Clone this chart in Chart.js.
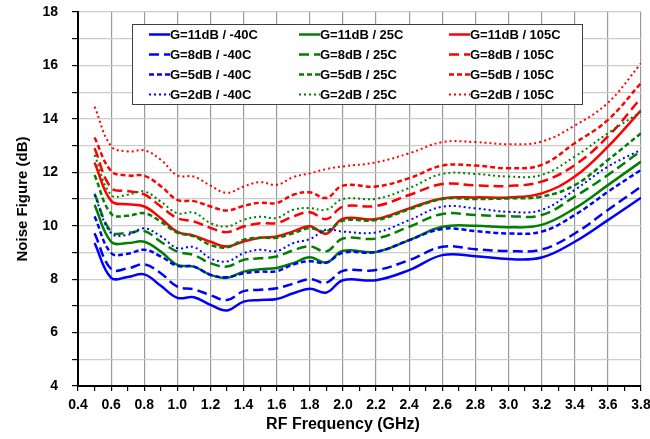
<!DOCTYPE html>
<html>
<head>
<meta charset="utf-8">
<script src="https://cdn.jsdelivr.net/npm/chart.js@4.4.1/dist/chart.umd.min.js"></script>
<style>
  html, body { margin: 0; padding: 0; background: #fff; }
  #wrap { width: 650px; height: 439px; }
</style>
</head>
<body>
<div id="wrap"><canvas id="nfChart"></canvas></div>
<script>
// RF frequency points (GHz)
const freq = [0.5, 0.6, 0.7, 0.8, 0.9, 1.0, 1.1, 1.2, 1.3, 1.4, 1.5, 1.6, 1.7, 1.8, 1.9,
              2.0, 2.2, 2.4, 2.6, 2.8, 3.0, 3.2, 3.4, 3.6, 3.8];

// Noise figure (dB)
const g11_m40 = [9.35, 8.05, 8.08, 8.18, 7.75, 7.30, 7.32, 7.04, 6.83, 7.16, 7.22, 7.26, 7.47, 7.64, 7.50,
                 7.96, 7.96, 8.34, 8.90, 8.86, 8.75, 8.81, 9.40, 10.21, 11.05];
const g8_m40  = [9.72, 8.38, 8.40, 8.55, 8.22, 7.72, 7.62, 7.40, 7.22, 7.55, 7.60, 7.66, 7.83, 8.00, 7.87,
                 8.31, 8.34, 8.71, 9.21, 9.12, 9.05, 9.11, 9.71, 10.59, 11.46];
const g5_m40  = [10.35, 8.98, 8.95, 9.10, 8.85, 8.50, 8.47, 8.16, 8.07, 8.22, 8.28, 8.30, 8.55, 8.67, 8.62,
                 8.99, 9.02, 9.46, 9.88, 9.80, 9.71, 9.78, 10.40, 11.27, 12.09];
const g2_m40  = [11.15, 9.72, 9.66, 9.90, 9.60, 9.16, 9.20, 8.78, 8.66, 8.97, 9.10, 9.05, 9.35, 9.50, 9.85,
                 9.78, 9.75, 10.21, 10.71, 10.65, 10.52, 10.59, 11.34, 12.21, 12.84];

const g11_25  = [10.78, 9.40, 9.35, 9.40, 9.03, 8.53, 8.47, 8.16, 8.05, 8.28, 8.37, 8.42, 8.60, 8.82, 8.62,
                 9.06, 9.02, 9.46, 9.96, 10.00, 9.94, 10.03, 10.65, 11.52, 12.40];
const g8_25   = [11.20, 9.78, 9.73, 9.80, 9.40, 9.03, 8.90, 8.60, 8.47, 8.72, 8.78, 8.85, 9.08, 9.23, 9.04,
                 9.52, 9.52, 9.96, 10.44, 10.40, 10.36, 10.40, 11.09, 11.90, 12.80];
const g5_25   = [11.90, 10.45, 10.37, 10.47, 10.15, 9.74, 9.60, 9.28, 9.19, 9.47, 9.55, 9.55, 9.72, 9.91, 9.79,
                 10.19, 10.21, 10.61, 11.00, 11.00, 11.02, 11.09, 11.52, 12.46, 13.46];
const g2_25   = [12.65, 11.15, 11.16, 11.28, 10.90, 10.47, 10.49, 10.10, 9.97, 10.22, 10.34, 10.29, 10.60, 10.66, 10.60,
                 11.00, 11.01, 11.41, 11.94, 11.94, 11.84, 11.90, 12.59, 13.46, 14.27];

const g11_105 = [12.37, 10.93, 10.80, 10.72, 10.28, 9.77, 9.63, 9.40, 9.22, 9.41, 9.55, 9.60, 9.79, 9.98, 9.70,
                 10.26, 10.25, 10.65, 11.02, 11.06, 11.06, 11.21, 11.84, 12.96, 14.32];
const g8_105  = [12.90, 11.42, 11.30, 11.17, 10.72, 10.28, 10.16, 9.92, 9.76, 9.97, 10.09, 10.10, 10.35, 10.50, 10.25,
                 10.71, 10.74, 11.15, 11.56, 11.51, 11.49, 11.65, 12.27, 13.34, 14.78];
const g5_105  = [13.30, 12.05, 11.88, 11.87, 11.48, 10.97, 10.92, 10.72, 10.57, 10.74, 10.86, 10.85, 11.16, 11.25, 11.04,
                 11.50, 11.47, 11.78, 12.25, 12.25, 12.15, 12.28, 13.09, 13.96, 15.34];
const g2_105  = [14.46, 12.98, 12.78, 12.82, 12.47, 11.88, 11.84, 11.50, 11.23, 11.47, 11.63, 11.53, 11.82, 11.96, 12.12,
                 12.22, 12.37, 12.71, 13.13, 13.13, 13.05, 13.15, 13.75, 14.60, 16.08];

// Axis ticks
const xTickVals = [0.4, 0.5, 0.6, 0.7, 0.8, 0.9, 1.0, 1.1, 1.2, 1.3, 1.4, 1.5, 1.6, 1.7, 1.8, 1.9, 2.0, 2.1,
                   2.2, 2.3, 2.4, 2.5, 2.6, 2.7, 2.8, 2.9, 3.0, 3.1, 3.2, 3.3, 3.4, 3.5, 3.6, 3.7, 3.8];
const yTickVals = [4, 5, 6, 7, 8, 9, 10, 11, 12, 13, 14, 15, 16, 17, 18];

const FONT = "'Liberation Sans', Arial, sans-serif";

// line styles per gain setting
const styleFor = {
  g11: { dash: [], width: 2.5 },
  g8:  { dash: [10, 5], width: 2.5 },
  g5:  { dash: [5, 3], width: 2.5 },
  g2:  { dash: [2, 3], width: 2 }
};

function makeSet(label, values, color, gain) {
  return {
    label: label,
    data: freq.map((f, i) => ({ x: f, y: values[i] })),
    borderColor: color,
    backgroundColor: color,
    borderWidth: styleFor[gain].width,
    borderDash: styleFor[gain].dash,
    pointRadius: 0,
    tension: 0.4,
    fill: false
  };
}

const datasets = [
  makeSet('G=11dB / -40C', g11_m40, '#0000ff', 'g11'),
  makeSet('G=8dB / -40C', g8_m40, '#0000ff', 'g8'),
  makeSet('G=5dB / -40C', g5_m40, '#0000ff', 'g5'),
  makeSet('G=2dB / -40C', g2_m40, '#0000ff', 'g2'),
  makeSet('G=11dB / 25C', g11_25, '#008000', 'g11'),
  makeSet('G=8dB / 25C', g8_25, '#008000', 'g8'),
  makeSet('G=5dB / 25C', g5_25, '#008000', 'g5'),
  makeSet('G=2dB / 25C', g2_25, '#008000', 'g2'),
  makeSet('G=11dB / 105C', g11_105, '#ff0000', 'g11'),
  makeSet('G=8dB / 105C', g8_105, '#ff0000', 'g8'),
  makeSet('G=5dB / 105C', g5_105, '#ff0000', 'g5'),
  makeSet('G=2dB / 105C', g2_105, '#ff0000', 'g2')
];

// boxed 3x4 legend drawn inside the plot area
const boxLegend = {
  id: 'boxLegend',
  afterDraw(chart) {
    const ctx = chart.ctx;
    const ds = chart.data.datasets;
    ctx.save();
    ctx.fillStyle = '#ffffff';
    ctx.fillRect(132, 24, 450, 80);
    ctx.strokeStyle = '#404040';
    ctx.lineWidth = 1;
    ctx.strokeRect(132.5, 24.5, 450, 80);
    ctx.font = 'bold 13px ' + FONT;
    ctx.textBaseline = 'middle';
    ctx.textAlign = 'left';
    for (let c = 0; c < 3; c++) {
      for (let r = 0; r < 4; r++) {
        const d = ds[c * 4 + r];
        const y = 34.5 + r * 20;
        const x0 = 149 + c * 150;
        ctx.strokeStyle = d.borderColor;
        ctx.lineWidth = d.borderWidth;
        ctx.setLineDash(d.borderDash);
        ctx.beginPath();
        ctx.moveTo(x0, y);
        ctx.lineTo(x0 + 21, y);
        ctx.stroke();
        ctx.setLineDash([]);
        ctx.fillStyle = '#000';
        ctx.fillText(d.label, x0 + 21, y + 0.5);
      }
    }
    // x axis title
    ctx.font = 'bold 16px ' + FONT;
    ctx.textAlign = 'center';
    ctx.fillText('RF Frequency (GHz)', 343, 425);
    ctx.restore();
  }
};

const ctx = document.getElementById('nfChart').getContext('2d');
new Chart(ctx, {
  type: 'line',
  data: { datasets: datasets },
  plugins: [boxLegend],
  options: {
    responsive: true,
    maintainAspectRatio: false,
    animation: false,
    layout: { padding: { left: 0, right: 9, top: 12, bottom: 0 } },
    plugins: {
      legend: { display: false },
      tooltip: { enabled: false }
    },
    scales: {
      x: {
        type: 'linear',
        min: 0.4,
        max: 3.8,
        afterBuildTicks: scale => { scale.ticks = xTickVals.map(v => ({ value: v })); },
        afterFit: scale => {
          scale.height = 53;
          scale.paddingLeft = 0;
          scale.paddingRight = 0;
        },
        border: { color: '#000', width: 2 },
        grid: {
          color: c => (c.index % 2 === 0 ? '#9a9a9a' : 'rgba(0,0,0,0)'),
          lineWidth: 1.2,
          tickColor: '#000',
          tickLength: 5
        },
        ticks: {
          autoSkip: false,
          maxRotation: 0,
          padding: 6,
          color: '#000',
          font: { family: FONT, size: 14, weight: 'bold' },
          callback: (v, i) => (i % 2 === 0 ? v.toFixed(1) : '')
        }
      },
      y: {
        min: 4,
        max: 18,
        afterBuildTicks: scale => { scale.ticks = yTickVals.map(v => ({ value: v })); },
        afterFit: scale => {
          scale.width = 78;
          scale.paddingTop = 0;
          scale.paddingBottom = 0;
        },
        border: { color: '#000', width: 2 },
        grid: {
          color: '#cccccc',
          lineWidth: 1.2,
          tickColor: '#000',
          tickLength: 6
        },
        title: {
          display: true,
          text: 'Noise Figure (dB)',
          color: '#000',
          padding: { top: 14, bottom: 0 },
          font: { family: FONT, size: 15, weight: 'bold' }
        },
        ticks: {
          padding: 14,
          color: '#000',
          font: { family: FONT, size: 14, weight: 'bold' },
          callback: v => (v % 2 === 0 ? String(v) : '')
        }
      }
    }
  }
});
</script>
</body>
</html>
